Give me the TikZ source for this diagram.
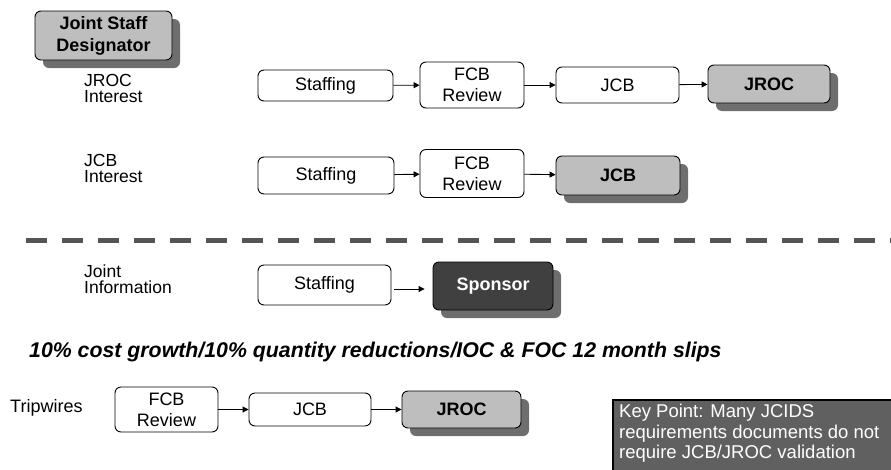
\documentclass[tikz,border=0pt]{standalone}
\usepackage{fontspec}
\setmainfont{Liberation Sans}
\usetikzlibrary{shadows,arrows.meta}
\definecolor{boxgray}{HTML}{BEBEBE}
\definecolor{shadowgray}{HTML}{6E6E6E}
\definecolor{darkbox}{HTML}{404040}
\definecolor{keygray}{HTML}{606060}
\definecolor{dashgray}{HTML}{555555}
\begin{document}
\begin{tikzpicture}[x=1pt,y=-1pt,
  base/.style={draw=black, line width=0.9pt, rounded corners=6pt, inner sep=0pt, align=center,
    font=\fontsize{18}{21}\selectfont},
  wbox/.style={base, fill=white},
  shad/.style={drop shadow={shadow xshift=8pt, shadow yshift=-8pt, fill=shadowgray, opacity=1}},
  gbox/.style={base, fill=boxgray, shad, font=\fontsize{18}{21}\selectfont\bfseries},
  dbox/.style={base, fill=darkbox, text=white, shad, font=\fontsize{18}{21}\selectfont\bfseries},
  lbl/.style={align=left, inner sep=0pt, anchor=north west, font=\fontsize{17.5}{16}\selectfont},
  arr/.style={-{Triangle[length=6pt,width=6pt]}, line width=0.9pt}
]
\useasboundingbox (0,0) rectangle (891,469);

% Joint Staff Designator
\node[gbox, minimum width=137pt, minimum height=49pt, font=\fontsize{18}{22}\selectfont\bfseries]
  (jsd) at (103.5,35.5) {Joint Staff\\Designator};

% Row 1
\node[lbl] (l1) at (84,74) {JROC\\Interest};
\node[wbox, minimum width=135pt, minimum height=31pt] (st1) at (325.5,85.5) {Staffing};
\node[wbox, minimum width=104pt, minimum height=46pt] (fcb1) at (472,85) {FCB\\Review};
\node[wbox, minimum width=123pt, minimum height=36pt] (jcb1) at (617.5,85) {JCB};
\node[gbox, minimum width=122pt, minimum height=38pt] (jroc1) at (769,84) {JROC};
\draw[arr] (st1) -- (fcb1);
\draw[arr] (fcb1) -- (jcb1);
\draw[arr] (jcb1) -- (jroc1);

% Row 2
\node[lbl] (l2) at (84,154) {JCB\\Interest};
\node[wbox, minimum width=136pt, minimum height=37pt] (st2) at (326,175.5) {Staffing};
\node[wbox, minimum width=104pt, minimum height=48pt] (fcb2) at (472,173.5) {FCB\\Review};
\node[gbox, minimum width=124pt, minimum height=39pt] (jcb2) at (618,175.5) {JCB};
\draw[arr] (st2) -- (fcb2);
\draw[arr] (fcb2) -- (jcb2);

% Dashed separator
\coordinate (dl) at (26,240);
\coordinate (dr) at (891,240);
\draw[dashgray, line width=5pt, dash pattern=on 21pt off 15pt] (dl) -- (dr);

% Row 3
\node[lbl] (l3) at (84,265) {Joint\\Information};
\node[wbox, minimum width=133pt, minimum height=40pt] (st3) at (324.5,285) {Staffing};
\node[dbox, minimum width=120pt, minimum height=48pt] (sp) at (493,286) {Sponsor};
\draw[arr, shorten <=3pt, shorten >=8pt] (st3.east |- 0,289) -- (sp.west |- 0,289);

% Tripwire text
\node[anchor=west, inner sep=0pt, font=\fontsize{21.3}{22}\selectfont\bfseries\itshape] (slips) at (29,352)
  {10\% cost growth/10\% quantity reductions/IOC \& FOC 12 month slips};

% Row 4
\node[anchor=west, inner sep=0pt, font=\fontsize{18}{20}\selectfont] (trip) at (10,407.5) {Tripwires};
\node[wbox, minimum width=103pt, minimum height=45pt] (fcb4) at (166.5,409.5) {FCB\\Review};
\node[wbox, minimum width=122pt, minimum height=33pt] (jcb4) at (310,409.5) {JCB};
\node[gbox, minimum width=119pt, minimum height=37pt] (jroc4) at (461.5,409.5) {JROC};
\draw[arr] (fcb4) -- (jcb4);
\draw[arr] (jcb4) -- (jroc4);

% Key point box
\node[draw=black, line width=1.6pt, fill=keygray, anchor=north west, minimum width=290pt, minimum height=80pt,
  inner sep=0pt] (keybox) at (612,399) {};
\node[anchor=north west, inner sep=0pt, align=left, text=white, font=\fontsize{18.5}{20.5}\selectfont]
  (keytext) at (619,404) {Key Point: Many JCIDS\\requirements documents do not\\require JCB/JROC validation};
\end{tikzpicture}
\end{document}
